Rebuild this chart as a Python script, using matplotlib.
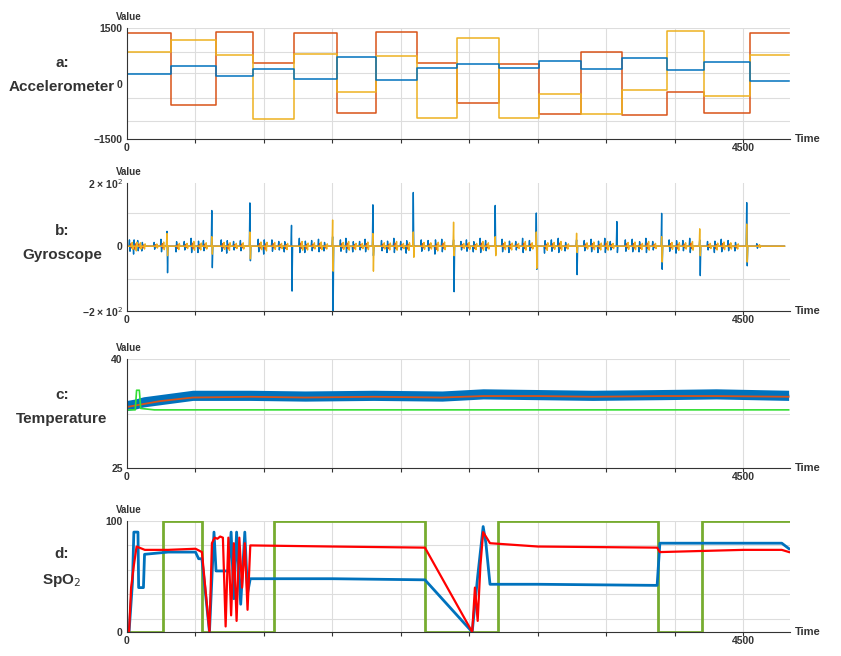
import matplotlib
matplotlib.use("Agg")
import matplotlib.pyplot as plt
import numpy as np

plt.rcParams['font.family'] = ['Liberation Sans', 'DejaVu Sans']

BLUE, RED, YEL = '#0072BD', '#D95319', '#EDB120'
XMAX = 4840

# ---------- a: accelerometer (step segments) ----------
acc_breaks = [0, 321, 650, 920, 1219, 1533, 1818, 2117, 2409, 2716, 3008, 3314, 3614, 3942, 4212, 4548, 4833]
acc_red = [1365, -581, 1392, 554, 1365, -797, 1392, 554, -527, 527, -824, 851, -851, -230, -797, 1365]
acc_yel = [851, 1176, 770, -960, 797, -230, 743, -933, 1230, -933, -284, -824, -176, 1419, -338, 770]
acc_blu = [257, 473, 203, 392, 122, 716, 95, 419, 527, 419, 608, 392, 689, 365, 581, 60]

# ---------- b: gyroscope spikes (time, up, down) ----------
gyr_blue_t = [294, 621, 899, 1203, 1503, 1797, 2092, 2386, 2690, 2990, 3284, 3578, 3905, 4183, 4526]
gyr_blue_up = [47, 113, 137, 66, 30, 131, 170, 20, 129, 105, 20, 78, 104, 20, 138]
gyr_blue_dn = [-84, -68, -46, -142, -210, -30, -20, -144, -25, -73, -90, -20, -73, -93, -62]
gyr_yel_t = [294, 621, 899, 1503, 1797, 2092, 2386, 2690, 2990, 3284, 3905, 4183, 4526]
gyr_yel_up = [40, 30, 45, 83, 40, 45, 76, 30, 45, 41, 30, 55, 70]
gyr_yel_dn = [-30, -25, -40, -79, -79, -35, -30, -30, -70, -20, -50, -30, -50]
small_t = [20, 50, 80, 110, 200, 250, 360, 420, 470, 520, 560, 690, 730, 780, 830, 960, 1000, 1060,
           1110, 1150, 1260, 1300, 1350, 1400, 1440, 1560, 1600, 1650, 1700, 1740, 1860, 1900, 1950,
           2000, 2040, 2150, 2200, 2250, 2300, 2440, 2480, 2530, 2580, 2620, 2740, 2790, 2840, 2890,
           2940, 3050, 3100, 3150, 3200, 3340, 3390, 3440, 3490, 3530, 3640, 3690, 3740, 3790, 3840,
           3960, 4010, 4060, 4110, 4240, 4290, 4340, 4390, 4440, 4600]
small_a = [20, -25, 18, -15, 12, 22, -18, 15, 25, -20, 18, 20, -22, 15, 18, 22, -25, 20, 15, -18, 25,
           -20, 18, 22, -15, 20, 25, -18, 15, 22, 18, -20, 25, 15, -22, 20, 18, -25, 22, 15, 20, -18,
           25, 18, 22, -20, 15, 25, 18, -22, 20, 25, -15, 18, 22, -20, 25, 15, 20, 22, -18, 25, 15,
           20, -22, 18, 25, 15, -20, 22, 18, -15, 8]

# ---------- c: temperature ----------
tmp_t = [0, 60, 120, 240, 480, 900, 1300, 1800, 2300, 2600, 3000, 3400, 3900, 4300, 4830]
tmp_blue = [33.6, 33.8, 34.1, 34.4, 35.0, 35.0, 34.9, 35.0, 34.9, 35.2, 35.1, 35.0, 35.1, 35.2, 35.0]
tmp_red = [33.4, 33.6, 33.8, 34.2, 34.7, 34.8, 34.7, 34.8, 34.7, 34.9, 34.9, 34.8, 34.9, 34.9, 34.8]
tmp_band = 0.7
tmp_grn_t = [0, 60, 70, 90, 100, 200, 4830]
tmp_grn = [33.0, 33.0, 35.7, 35.7, 33.2, 33.0, 33.0]

# ---------- d: SpO2 ----------
sp_grn_t = [0, 263, 263, 547, 547, 1073, 1073, 2175, 2175, 2708, 2708, 3876, 3876, 4197, 4197, 4833]
sp_grn = [0, 0, 100, 100, 0, 0, 100, 100, 0, 0, 100, 100, 0, 0, 100, 100]
sp_blu_t = [0, 15, 40, 50, 80, 85, 120, 128, 300, 500, 523, 547, 602, 635, 650, 700, 740, 760, 780,
            800, 830, 860, 880, 900, 1500, 2175, 2520, 2560, 2600, 2620, 2650, 3000, 3870, 3890, 4500,
            4780, 4833]
sp_blu = [0, 0, 45, 90, 90, 40, 40, 70, 72, 72, 66, 66, 0, 90, 55, 55, 55, 90, 30, 90, 25, 90, 35,
          48, 48, 47, 0, 50, 95, 80, 43, 43, 42, 80, 80, 80, 75]
sp_red_t = [0, 15, 30, 50, 70, 130, 300, 500, 547, 602, 620, 640, 660, 680, 700, 720, 740, 760, 780,
            800, 820, 840, 860, 880, 900, 1500, 2175, 2520, 2540, 2560, 2580, 2600, 2650, 3000, 3870,
            3890, 4500, 4780, 4833]
sp_red = [0, 0, 40, 60, 77, 74, 74, 75, 72, 0, 80, 85, 84, 86, 85, 5, 85, 15, 80, 10, 85, 40, 80, 20,
          78, 77, 76, 0, 40, 10, 60, 90, 80, 77, 76, 72, 74, 74, 72]

fig = plt.figure(figsize=(8.41, 6.56), dpi=100)
L, W = 127 / 841, (790 - 127) / 841


def ax_at(top, bot):
    return fig.add_axes([L, 1 - bot / 656, W, (bot - top) / 656])


def style(ax, yt, ylabels, ygrid, title, tx, ty):
    ax.set_xlim(0, XMAX)
    for s in ['top', 'right']:
        ax.spines[s].set_visible(False)
    for s in ['left', 'bottom']:
        ax.spines[s].set_color('#333333')
    ax.set_xticks(np.arange(500, 4501, 500))
    ax.set_xticklabels([])
    for g in np.arange(500, 4501, 500):
        ax.axvline(g, color='#dddddd', lw=0.8, zorder=0)
    for g in ygrid:
        ax.axhline(g, color='#dddddd', lw=0.8, zorder=0)
    ax.set_yticks(yt)
    ax.set_yticklabels(ylabels, fontsize=7.5, fontweight='bold', color='#333333')
    ax.tick_params(axis='x', length=3, color='#333333')
    ax.tick_params(axis='y', length=0, pad=3)
    bb = ax.get_position()
    fig.text(bb.x0, bb.y0 - 4 / 656, '0', ha='center', va='top', fontsize=7.5,
             fontweight='bold', color='#333333')
    fig.text(bb.x0 + bb.width * 4500 / XMAX, bb.y0 - 4 / 656, '4500', ha='center', va='top',
             fontsize=7.5, fontweight='bold', color='#333333')
    ax.text(1.008, 0, 'Time', transform=ax.transAxes, ha='left', va='center', fontsize=8,
            fontweight='bold', color='#333333')
    fig.text(bb.x0 + 0.002, bb.y1 + 6 / 656, 'Value', ha='center', va='bottom', fontsize=7,
             fontweight='bold', color='#333333')
    fig.text(tx / 841, 1 - ty / 656, title, ha='center', va='center', fontsize=11,
             fontweight='bold', color='#333333', linespacing=1.9)


# a
ax = ax_at(28, 139)
tb = np.array(acc_breaks)
for vals, c in [(acc_red, RED), (acc_yel, YEL), (acc_blu, BLUE)]:
    ax.step(tb, list(vals) + [vals[-1]], where='post', color=c, lw=1.1)
ax.set_ylim(-1500, 1500)
style(ax, [-1500, 0, 1500], ['\u22121500', '0', '1500'], [-1014, -392, 284, 851, 1500],
      'a:\nAccelerometer', 62, 75)

# b
ax = ax_at(183, 311)


def spikes(ts, ups, dns):
    xs, ys = [0], [0]
    for t, u, d in zip(ts, ups, dns):
        xs += [t - 6, t - 2, t + 2, t + 6]
        ys += [0, u, d, 0]
    xs.append(XMAX - 40)
    ys.append(0)
    return xs, ys


def merged(t1, u1, d1, t2, u2, d2):
    rows = sorted(zip(list(t1) + list(t2), list(u1) + list(u2), list(d1) + list(d2)))
    return spikes([r[0] for r in rows], [r[1] for r in rows], [r[2] for r in rows])


sm_t = np.array(small_t)
sm_a = np.array(small_a)
ax.plot(*merged(gyr_blue_t, gyr_blue_up, gyr_blue_dn, sm_t, sm_a, -sm_a * 0.8), color=BLUE, lw=1.0)
ax.plot(*spikes(sm_t + 10, sm_a * 0.4, -sm_a * 0.3), color=RED, lw=0.8)
ax.plot(*merged(gyr_yel_t, gyr_yel_up, gyr_yel_dn, sm_t + 20, sm_a * 0.6, -sm_a * 0.5), color=YEL, lw=1.0)
ax.set_ylim(-205, 200)
style(ax, [-205, 0, 200], ['\u22122 \u00d7 10$^2$', '0', '2 \u00d7 10$^2$'], [-105, 105],
      'b:\nGyroscope', 62, 243)

# c
ax = ax_at(359, 468)
tb = np.array(tmp_blue)
ax.fill_between(tmp_t, tb - tmp_band, tb + tmp_band, color=BLUE, lw=0)
ax.plot(tmp_t, tmp_blue, color=BLUE, lw=1)
ax.plot(tmp_t, tmp_red, color=RED, lw=1.3)
ax.plot(tmp_grn_t, tmp_grn, color='#33dd33', lw=1.2)
ax.set_ylim(25, 40)
style(ax, [25, 40], ['25', '40'], [32.5, 40], 'c:\nTemperature', 62, 407)

# d
ax = ax_at(521, 632)
ax.plot(sp_grn_t, sp_grn, color='#77AC30', lw=2)
ax.plot(sp_blu_t, sp_blu, color=BLUE, lw=2)
ax.plot(sp_red_t, sp_red, color='#FF0000', lw=1.6)
ax.set_ylim(0, 100)
style(ax, [0, 100], ['0', '100'], [12, 34, 56, 78, 100], 'd:\nSpO$_2$', 62, 568)

fig.savefig('out.png', dpi=100)
